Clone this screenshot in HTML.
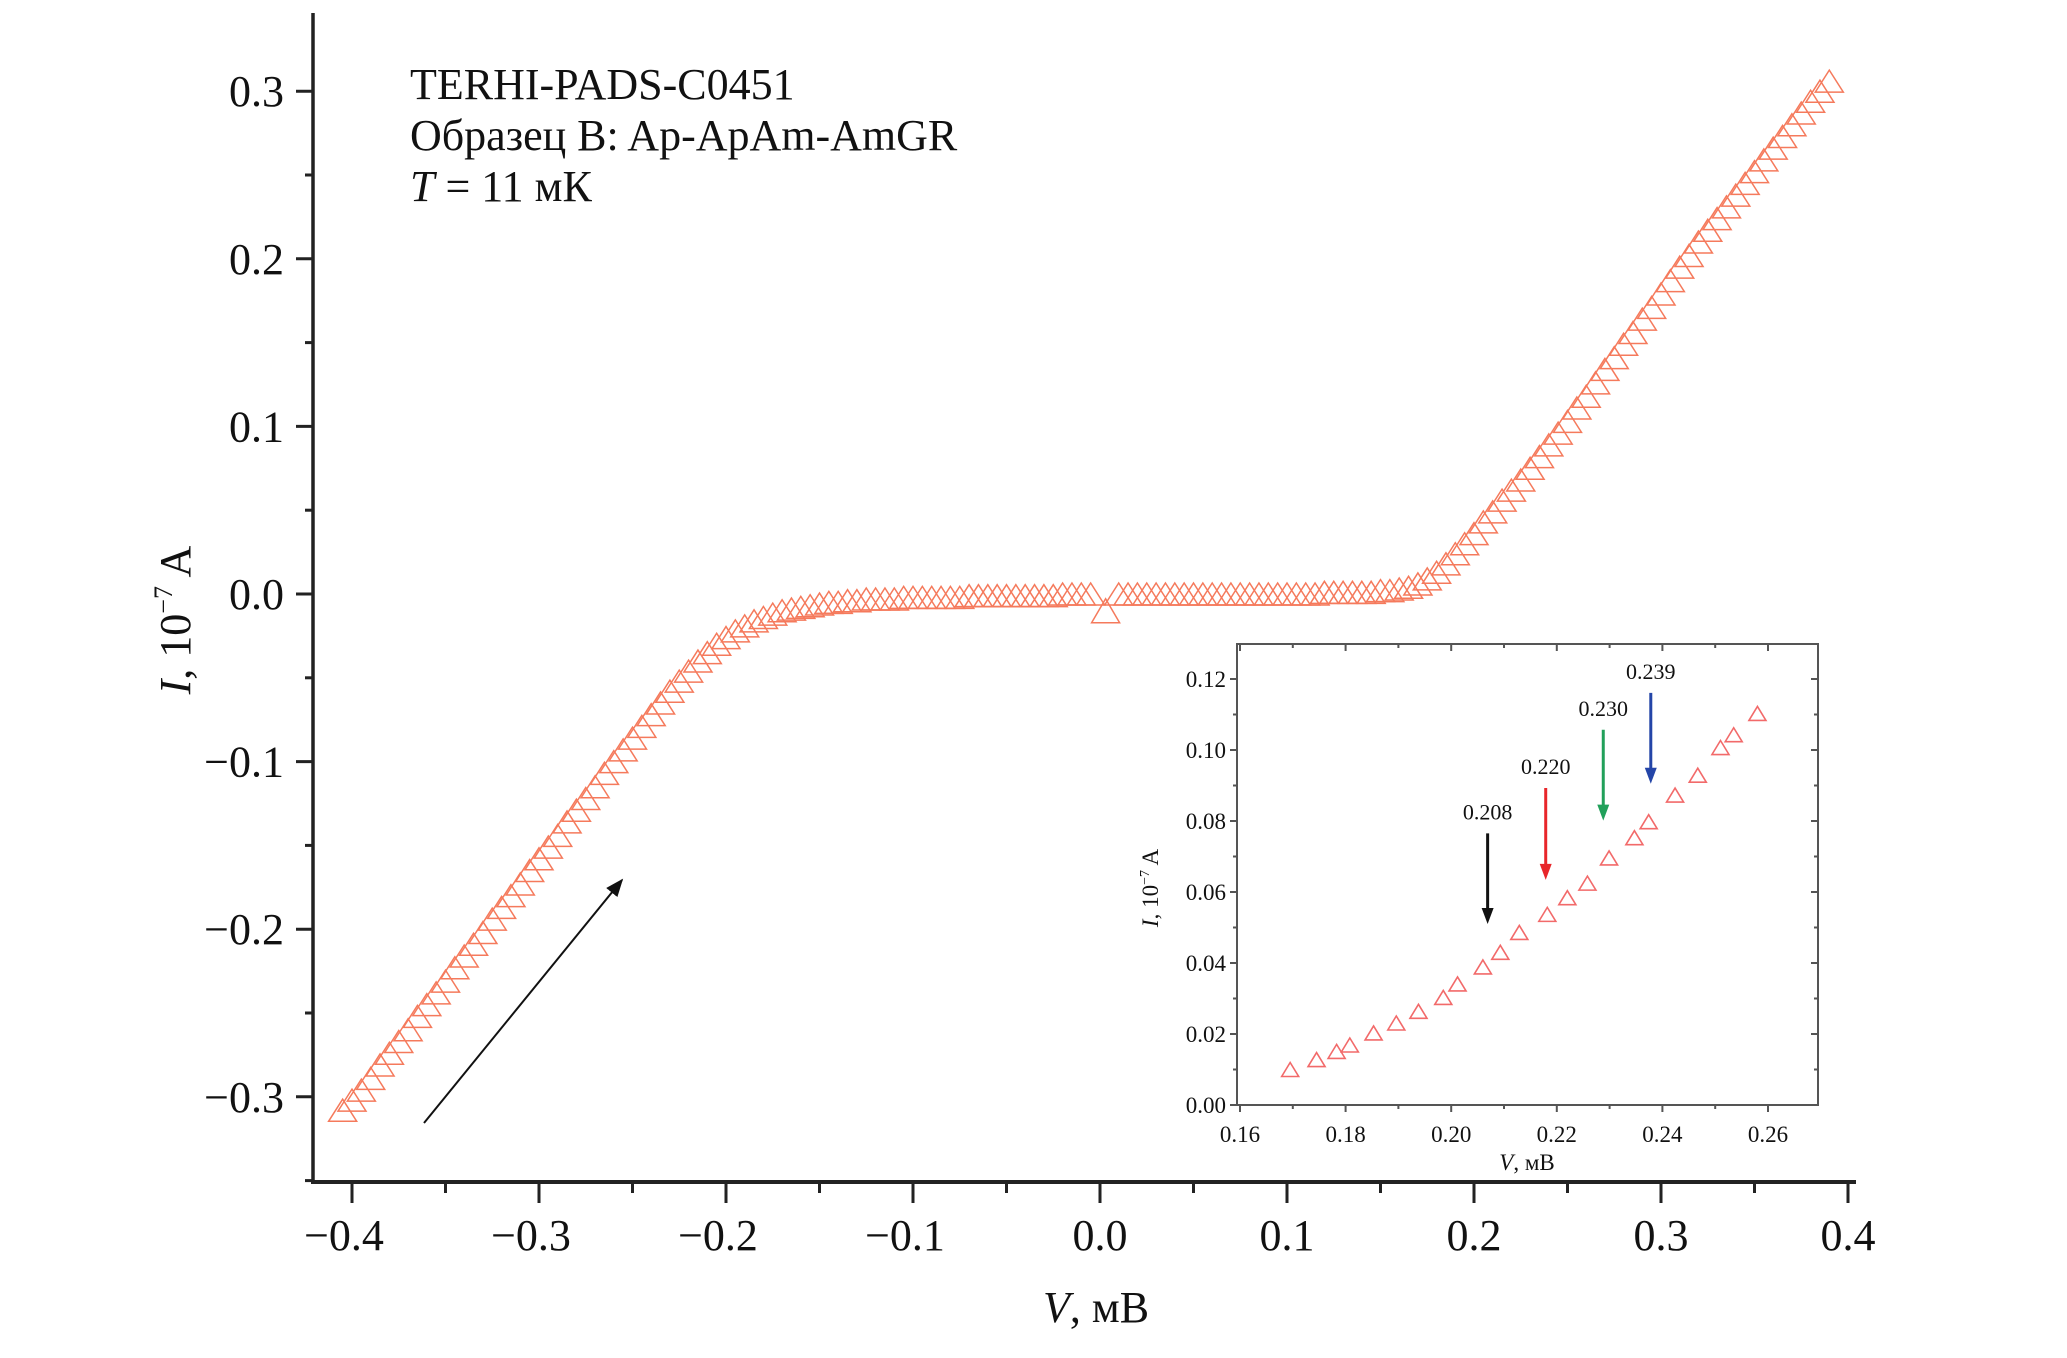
<!DOCTYPE html>
<html><head><meta charset="utf-8"><style>
html,body{margin:0;padding:0;background:#fff}
svg{display:block}
text{font-family:"Liberation Serif",serif;fill:#111}
</style></head><body>
<svg id="chart" width="2067" height="1358" viewBox="0 0 2067 1358" xmlns="http://www.w3.org/2000/svg">
<g id="main"></g>
<g id="inset"></g>
</svg>
<script>
// main chart data
const mainV = [-0.405,-0.400,-0.395,-0.390,-0.385,-0.380,-0.375,-0.370,-0.365,-0.360,-0.355,-0.350,-0.345,-0.340,-0.335,-0.330,-0.325,-0.320,-0.315,-0.310,-0.305,-0.300,-0.295,-0.290,-0.285,-0.280,-0.275,-0.270,-0.265,-0.260,-0.255,-0.250,-0.245,-0.240,-0.235,-0.230,-0.225,-0.220,-0.215,-0.210,-0.205,-0.200,-0.195,-0.190,-0.185,-0.180,-0.175,-0.170,-0.165,-0.160,-0.155,-0.150,-0.145,-0.140,-0.135,-0.130,-0.125,-0.120,-0.115,-0.110,-0.105,-0.100,-0.095,-0.090,-0.085,-0.080,-0.075,-0.070,-0.065,-0.060,-0.055,-0.050,-0.045,-0.040,-0.035,-0.030,-0.025,-0.020,-0.015,-0.010,-0.005,0.010,0.015,0.020,0.025,0.030,0.035,0.040,0.045,0.050,0.055,0.060,0.065,0.070,0.075,0.080,0.085,0.090,0.095,0.100,0.105,0.110,0.115,0.120,0.125,0.130,0.135,0.140,0.145,0.150,0.155,0.160,0.165,0.170,0.175,0.180,0.185,0.190,0.195,0.200,0.205,0.210,0.215,0.220,0.225,0.230,0.235,0.240,0.245,0.250,0.255,0.260,0.265,0.270,0.275,0.280,0.285,0.290,0.295,0.300,0.305,0.310,0.315,0.320,0.325,0.330,0.335,0.340,0.345,0.350,0.355,0.360,0.365,0.370,0.375,0.380,0.385,0.390];
const mainI = [-0.308,-0.302,-0.296,-0.289,-0.281,-0.274,-0.267,-0.260,-0.252,-0.245,-0.238,-0.231,-0.223,-0.216,-0.209,-0.202,-0.194,-0.187,-0.180,-0.173,-0.165,-0.158,-0.151,-0.144,-0.136,-0.129,-0.122,-0.115,-0.107,-0.100,-0.093,-0.086,-0.079,-0.072,-0.065,-0.058,-0.052,-0.046,-0.040,-0.035,-0.030,-0.026,-0.022,-0.019,-0.016,-0.014,-0.012,-0.010,-0.009,-0.008,-0.007,-0.006,-0.005,-0.005,-0.004,-0.004,-0.003,-0.003,-0.003,-0.003,-0.002,-0.002,-0.002,-0.002,-0.002,-0.002,-0.002,-0.001,-0.001,-0.001,-0.001,-0.001,-0.001,-0.001,-0.001,-0.001,-0.001,0.000,0.000,0.000,0.000,0.000,0.000,0.000,0.000,0.000,0.000,0.000,0.000,0.000,0.000,0.000,0.000,0.000,0.000,0.000,0.000,0.000,0.000,0.000,0.000,0.000,0.000,0.001,0.001,0.001,0.001,0.001,0.001,0.002,0.002,0.003,0.004,0.006,0.009,0.013,0.018,0.024,0.030,0.036,0.043,0.049,0.056,0.062,0.068,0.075,0.082,0.089,0.096,0.103,0.111,0.118,0.126,0.134,0.141,0.149,0.156,0.164,0.171,0.179,0.187,0.195,0.202,0.210,0.217,0.224,0.231,0.238,0.245,0.252,0.259,0.266,0.273,0.280,0.287,0.294,0.300,0.306];
const centerV = [0.003];
const centerI = [-0.010];
const xTicks = [-0.4,-0.3,-0.2,-0.1,0.0,0.1,0.2,0.3,0.4];
const xTickLabels = ["\u22120.4","\u22120.3","\u22120.2","\u22120.1","0.0","0.1","0.2","0.3","0.4"];
const yTicks = [-0.3,-0.2,-0.1,0.0,0.1,0.2,0.3];
const yTickLabels = ["\u22120.3","\u22120.2","\u22120.1","0.0","0.1","0.2","0.3"];
// inset data
const insetV = [0.1695,0.1745,0.1783,0.1808,0.1853,0.1896,0.1938,0.1985,0.2012,0.2060,0.2093,0.2129,0.2182,0.2220,0.2258,0.2299,0.2347,0.2374,0.2424,0.2467,0.2510,0.2535,0.2580];
const insetI = [0.0100,0.0128,0.0151,0.0169,0.0203,0.0231,0.0264,0.0303,0.0341,0.0389,0.0430,0.0486,0.0537,0.0584,0.0625,0.0696,0.0753,0.0798,0.0873,0.0929,0.1007,0.1043,0.1103];
const arrowLabels = ["0.208","0.220","0.230","0.239"];
const arrowV = [0.2069,0.2179,0.2288,0.2378];
const arrowTop = [0.0765,0.0893,0.1057,0.1161];
const arrowBottom = [0.0510,0.0634,0.0801,0.0905];
const arrowColors = ["#111","#e8262a","#21a05a","#2445a8"];
const insetXTicks = [0.16,0.18,0.20,0.22,0.24,0.26];
const insetXTickLabels = ["0.16","0.18","0.20","0.22","0.24","0.26"];
const insetYTicks = [0.00,0.02,0.04,0.06,0.08,0.10,0.12];
const insetYTickLabels = ["0.00","0.02","0.04","0.06","0.08","0.10","0.12"];

const NS = "http://www.w3.org/2000/svg";
function mk(parent, tag, attrs, txt){const e=document.createElementNS(NS,tag);for(const k in attrs)e.setAttribute(k,attrs[k]);if(txt!==undefined)e.textContent=txt;parent.appendChild(e);return e;}

// main axes
const X0=313, XR=1856, YB=1182, YT=13;
const sx = v => 1100 + v*1870;
const sy = v => 594 - v*1676;
const main = document.getElementById('main');
let e;
e=mk(main,'line',{x1:X0,y1:YT,x2:X0,y2:YB+2,stroke:'#222','stroke-width':3.5});
 
e=mk(main,'line',{x1:X0-2,y1:YB,x2:XR,y2:YB,stroke:'#222','stroke-width':4});
 
for(let k=-7;k<=6;k++){const v=k*0.05;const y=sy(v);const major=(k%2===0);
 e=mk(main,'line',{x1:X0-(major?17:8),y1:y,x2:X0,y2:y,stroke:'#222','stroke-width':3});
  }
yTicks.forEach((v,i)=>{e=mk(main,'text',{x:284,y:sy(v)+15,'text-anchor':'end','font-size':44},yTickLabels[i]);
  });
for(let k=-8;k<=8;k++){const v=k*0.05;const x=sx(v);const major=(k%2===0);
 e=mk(main,'line',{x1:x,y1:YB,x2:x,y2:YB+(major?21:11),stroke:'#222','stroke-width':3});
  }
xTicks.forEach((v,i)=>{e=mk(main,'text',{x:sx(v)-(v<0?8:0),y:1250,'text-anchor':'middle','font-size':44},xTickLabels[i]);
  });
e=mk(main,'text',{x:1096,y:1322,'text-anchor':'middle','font-size':44});
e.innerHTML='<tspan font-style="italic">V</tspan>, мВ';
 
e=mk(main,'text',{x:0,y:0,'text-anchor':'middle','font-size':44,transform:'translate(190,620) rotate(-90)'});
e.innerHTML='<tspan font-style="italic">I</tspan>, 10<tspan font-size="26" dy="-18">−7</tspan><tspan dy="18"> A</tspan>';
 
// annotation
const ann=["TERHI-PADS-C0451","Образец B: Ap-ApAm-AmGR"];
ann.forEach((t,i)=>{e=mk(main,'text',{x:410,y:99+i*51,'font-size':44},t);
  });
e=mk(main,'text',{x:410,y:201,'font-size':44});
e.innerHTML='<tspan font-style="italic">T</tspan> = 11 мК';
 
// sweep arrow
mk(main,'defs',{}).innerHTML='<marker id="ah" viewBox="0 0 10 10" refX="9" refY="5" markerWidth="9" markerHeight="9" orient="auto"><path d="M0,1 L10,5 L0,9 z" fill="#111"/></marker>';
e=mk(main,'line',{x1:424,y1:1123,x2:622,y2:880,stroke:'#111','stroke-width':2,'marker-end':'url(#ah)'});
 
function tri(g,cx,cy,w,h,col,sw){return mk(g,'path',{d:`M${cx-w/2},${cy+h/2} L${cx},${cy-h/2} L${cx+w/2},${cy+h/2} Z`,fill:'none',stroke:col,'stroke-width':sw});}
mainV.forEach((v,i)=>{e=tri(main,sx(v),sy(mainI[i]),28,22,'#f57a5c',1.5);
  });
centerV.forEach((v,i)=>{e=tri(main,sx(v),sy(centerI[i]),28,24,'#f57a5c',1.5);
  });

// inset
const ins=document.getElementById('inset');
const L=1237,R=1818,T=644,B=1105;
const ix = v => 1240 + (v-0.16)*5280;
const iy = v => 1105 - v*3550;
e=mk(ins,'rect',{x:L,y:T,width:R-L,height:B-T,fill:'#fff',stroke:'#555','stroke-width':2});
 
for(let k=0;k<=12;k++){const y=iy(k*0.01);const major=k%2===0;
 mk(ins,'line',{x1:L-(major?7:4),y1:y,x2:L,y2:y,stroke:'#555','stroke-width':2});
 mk(ins,'line',{x1:R-(major?7:4),y1:y,x2:R,y2:y,stroke:'#555','stroke-width':2});}
for(let k=0;k<=10;k++){const x=ix(0.16+k*0.01);const major=k%2===0;
 mk(ins,'line',{x1:x,y1:B,x2:x,y2:B+(major?7:4),stroke:'#555','stroke-width':2});
 mk(ins,'line',{x1:x,y1:T,x2:x,y2:T+(major?7:4),stroke:'#555','stroke-width':2});}
insetYTicks.forEach((v,i)=>{e=mk(ins,'text',{x:1226,y:iy(v)+8,'text-anchor':'end','font-size':23},insetYTickLabels[i]);
  });
insetXTicks.forEach((v,i)=>{e=mk(ins,'text',{x:ix(v),y:1142,'text-anchor':'middle','font-size':23},insetXTickLabels[i]);
  });
e=mk(ins,'text',{x:1527,y:1170,'text-anchor':'middle','font-size':23});
e.innerHTML='<tspan font-style="italic">V</tspan>, мВ';
 
e=mk(ins,'text',{x:0,y:0,'text-anchor':'middle','font-size':23,transform:'translate(1158,888) rotate(-90)'});
e.innerHTML='<tspan font-style="italic">I</tspan>, 10<tspan font-size="14" dy="-9">−7</tspan><tspan dy="9"> A</tspan>';
 
insetV.forEach((v,i)=>{e=tri(ins,ix(v),iy(insetI[i]),17,14,'#f26a6a',1.6);
  });
arrowV.forEach((v,i)=>{const x=ix(v),y1=iy(arrowTop[i]),y2=iy(arrowBottom[i]);
 e=mk(ins,'line',{x1:x,y1:y1,x2:x,y2:y2-12,stroke:arrowColors[i],'stroke-width':3});
  
 e=mk(ins,'path',{d:`M${x-6},${y2-16} L${x+6},${y2-16} L${x},${y2} Z`,fill:arrowColors[i]});
  
 e=mk(ins,'text',{x:x,y:y1-14,'text-anchor':'middle','font-size':22},arrowLabels[i]);
  });
</script>
</body></html>
